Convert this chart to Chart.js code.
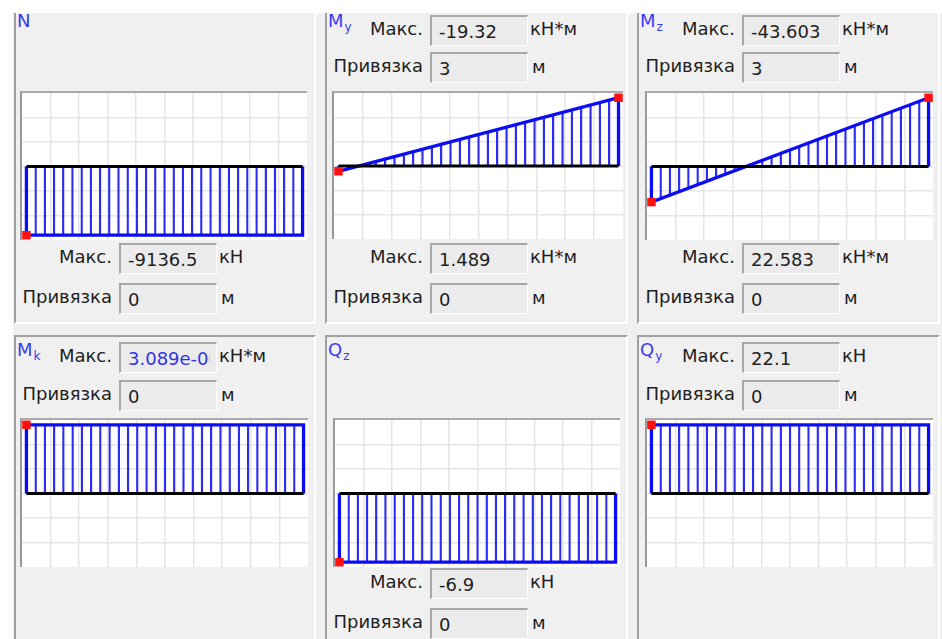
<!DOCTYPE html>
<html lang="ru">
<head>
<meta charset="UTF-8">
<title>Эпюры усилий в стержне</title>
<style>
    body { margin: 0; background: #fff; font-family: "DejaVu Sans", sans-serif; font-size: 18px; color: #1e1e1e; }
    #stage { position: relative; width: 942px; height: 639px; overflow: hidden; background: #fff; }
    #back { position: absolute; left: 13px; top: 13px; right: 0; bottom: 0; background: #f0f0f0; }
    .panel { position: absolute; box-sizing: border-box; background: #f0f0f0;
             border-left: 2px solid #a0a0a0; border-top: 2px solid #a0a0a0;
             border-right: 2px solid #fff; border-bottom: 2px solid #fff; }
    .panel.first { border-top: none; }
    .title { position: absolute; color: #3b3bef; line-height: 20px; white-space: nowrap; }
    .title span { font-size: 12px; position: relative; top: 4px; margin-left: 1px; }
    .lbl { position: absolute; width: 98px; text-align: right; line-height: 20px; white-space: nowrap; }
    .unit { position: absolute; line-height: 20px; white-space: nowrap; }
    .box { position: absolute; width: 98px; height: 31px; box-sizing: border-box; background: #ebebeb;
           border-left: 2px solid #a8a8a8; border-top: 2px solid #a8a8a8;
           border-right: 1px solid #fff; border-bottom: 1px solid #fff;
           padding: 5px 0 0 7px; line-height: 20px; overflow: hidden; white-space: nowrap; }
    .box span { display: inline-block; width: 82px; overflow: hidden; vertical-align: top; }
    .plot { position: absolute; box-sizing: border-box; background: #fff;
            border-left: 2px solid #999; border-top: 2px solid #aaa; }
    .plot canvas { display: block; }
</style>
</head>
<body>
<div id="stage"><div id="back"></div></div>

<script src="https://cdn.jsdelivr.net/npm/chart.js"></script>
<script>
    // длина стержня, м (начало и конец)
    var stations = [0, 3];

    // значения усилий в начале и в конце стержня
    var N  = [-9136.5, -9136.5];   // кН
    var My = [1.489, -19.32];      // кН*м
    var Mz = [22.583, -43.603];    // кН*м
    var Mk = [3.089e-5, 3.089e-5]; // кН*м
    var Qz = [-6.9, -6.9];         // кН
    var Qy = [22.1, 22.1];         // кН

    var panels = [
        { name: 'N', sub: '',  vals: N,  unit: 'кН',   reverse: false },
        { name: 'M', sub: 'y', vals: My, unit: 'кН*м', reverse: true },
        { name: 'M', sub: 'z', vals: Mz, unit: 'кН*м', reverse: true },
        { name: 'M', sub: 'k', vals: Mk, unit: 'кН*м', reverse: false, blueValue: true },
        { name: 'Q', sub: 'z', vals: Qz, unit: 'кН',   reverse: false },
        { name: 'Q', sub: 'y', vals: Qy, unit: 'кН',   reverse: false }
    ];

    // расположение окон (px)
    var rows = [
        { top: 13, height: 311, titleY: 11,  topFields: [15, 52],   bottomFields: [243, 283] },
        { top: 335, height: 310, titleY: 340, topFields: [342, 380], bottomFields: [568, 608] }
    ];
    var cols = [{ left: 14, width: 302 }, { left: 325, width: 303 }, { left: 637, width: 303 }];
    var plots = [
        [20, 91, 307, 240], [332, 91, 623, 239], [645, 91, 933, 240],
        [20, 418, 308, 567], [333, 418, 620, 567], [645, 418, 933, 567]
    ];

    var HATCH_STEPS = 30;
    var TILE = 20;
    var stage = document.getElementById('stage');

    function el(cls, x, y, html) {
        var d = document.createElement('div');
        d.className = cls;
        d.style.left = x + 'px';
        d.style.top = y + 'px';
        if (html !== undefined) d.innerHTML = html;
        stage.appendChild(d);
        return d;
    }

    function fmtValue(v) {
        if (v !== 0 && Math.abs(v) < 1e-3) {
            var parts = v.toExponential(3).split('e');
            return parts[0] + 'e' + parts[1][0] + parts[1].slice(1).padStart(3, '0');
        }
        return String(v);
    }

    // какой экстремум рисуется вверх, какой вниз
    function extremes(vals, reverse) {
        var iMax = 0, iMin = 0;
        vals.forEach(function(v, i) {
            if (v > vals[iMax]) iMax = i;
            if (v < vals[iMin]) iMin = i;
        });
        var isUp = function(i) { return reverse ? vals[i] < 0 : vals[i] > 0; };
        var up = reverse ? iMin : iMax, down = reverse ? iMax : iMin;
        return {
            top: isUp(up) ? up : null,
            bottom: (!isUp(down) && vals[down] !== 0) ? down : null
        };
    }

    function fields(p, colLeft, ys, idx) {
        var v = p.vals[idx];
        el('lbl', colLeft, ys[0] + 4, 'Макс.');
        var b = el('box', colLeft + 105, ys[0], '<span>' + fmtValue(v) + '</span>');
        if (p.blueValue) b.style.color = '#3434e6';
        el('unit', colLeft + 205, ys[0] + 4, p.unit);
        el('lbl', colLeft, ys[1] + 4, 'Привязка');
        el('box', colLeft + 105, ys[1], '<span>' + stations[idx] + '</span>');
        el('unit', colLeft + 207, ys[1] + 5, 'м');
    }

    var hatchPlugin = {
        id: 'hatch',
        afterLayout: function(chart) {
            var pat = chart.$hatch;
            if (!pat) return;
            var x = chart.scales.x;
            var x0 = x.getPixelForValue(stations[0]);
            var x1 = x.getPixelForValue(stations[stations.length - 1]);
            var step = (x1 - x0) / HATCH_STEPS;
            pat.setTransform(new DOMMatrix([step / TILE, 0, 0, 1, x0, 0]));
        }
    };

    panels.forEach(function(p, i) {
        var row = rows[Math.floor(i / 3)], col = cols[i % 3];
        var fr = el('panel' + (i < 3 ? ' first' : ''), col.left, row.top);
        fr.style.width = col.width + 'px';
        fr.style.height = row.height + 'px';

        el('title', col.left + 3, row.titleY, p.name + (p.sub ? '<span>' + p.sub + '</span>' : ''));

        var ext = extremes(p.vals, p.reverse);
        if (ext.top !== null) fields(p, col.left, row.topFields, ext.top);
        if (ext.bottom !== null) fields(p, col.left, row.bottomFields, ext.bottom);

        var r = plots[i];
        var wrap = el('plot', r[0], r[1]);
        wrap.style.width = (r[2] - r[0]) + 'px';
        wrap.style.height = (r[3] - r[1]) + 'px';
        var cv = document.createElement('canvas');
        cv.width = r[2] - r[0] - 2;
        cv.height = r[3] - r[1] - 2;
        wrap.appendChild(cv);

        // штриховка эпюры
        var tile = document.createElement('canvas');
        tile.width = TILE; tile.height = 4;
        var tctx = tile.getContext('2d');
        tctx.fillStyle = '#2c2cf4';
        tctx.fillRect(0, 0, 2.3, 4);
        tctx.fillRect(TILE - 2.3, 0, 2.3, 4);
        var pattern = cv.getContext('2d').createPattern(tile, 'repeat');

        var last = stations.length - 1;
        var diagram = [{ x: stations[0], y: 0 }];
        stations.forEach(function(s, k) { diagram.push({ x: s, y: p.vals[k] }); });
        diagram.push({ x: stations[last], y: 0 });
        var axisLine = [{ x: stations[0], y: 0 }, { x: stations[last], y: 0 }];
        var markers = [];
        [ext.top, ext.bottom].forEach(function(k) {
            if (k !== null) markers.push({ x: stations[k], y: p.vals[k] });
        });

        var maxAbs = Math.max.apply(null, p.vals.map(Math.abs));
        var lim = maxAbs / 0.935;
        var span = stations[last] - stations[0];
        var pad = span * 0.016;

        var gridOpts = { color: '#e6e6e6', lineWidth: 1.5, drawTicks: false };
        var chart = new Chart(cv, {
            type: 'line',
            data: {
                datasets: [
                    { data: markers, showLine: false, pointStyle: 'rect', pointRadius: 6,
                      pointBackgroundColor: '#ff1010', pointBorderWidth: 0, order: 1, clip: false },
                    { data: axisLine, borderColor: '#000', borderWidth: 3, pointRadius: 0, order: 2, clip: false },
                    { data: diagram, borderColor: '#0c0cf2', borderWidth: 3.3, pointRadius: 0,
                      fill: 'origin', backgroundColor: pattern, order: 3, clip: false }
                ]
            },
            options: {
                responsive: false,
                animation: false,
                devicePixelRatio: 1,
                events: [],
                layout: { padding: 0, autoPadding: false },
                plugins: { legend: { display: false }, tooltip: { enabled: false } },
                scales: {
                    x: {
                        type: 'linear', min: stations[0] - pad, max: stations[last] + pad,
                        border: { display: false }, grid: gridOpts, ticks: { display: false },
                        afterBuildTicks: function(ax) {
                            var t = [];
                            for (var k = 1; k < 10; k++) t.push({ value: ax.min + k * (ax.max - ax.min) / 10 });
                            ax.ticks = t;
                        }
                    },
                    y: {
                        type: 'linear', min: -lim, max: lim, reverse: p.reverse,
                        border: { display: false }, grid: gridOpts, ticks: { display: false },
                        afterBuildTicks: function(ax) {
                            var t = [];
                            for (var k = 1; k < 6; k++) t.push({ value: ax.min + k * (ax.max - ax.min) / 6 });
                            ax.ticks = t;
                        }
                    }
                }
            },
            plugins: [{
                id: 'hatchInit',
                beforeInit: function(c) { c.$hatch = pattern; }
            }, hatchPlugin]
        });
        chart.update();
    });
</script>
</body>
</html>
